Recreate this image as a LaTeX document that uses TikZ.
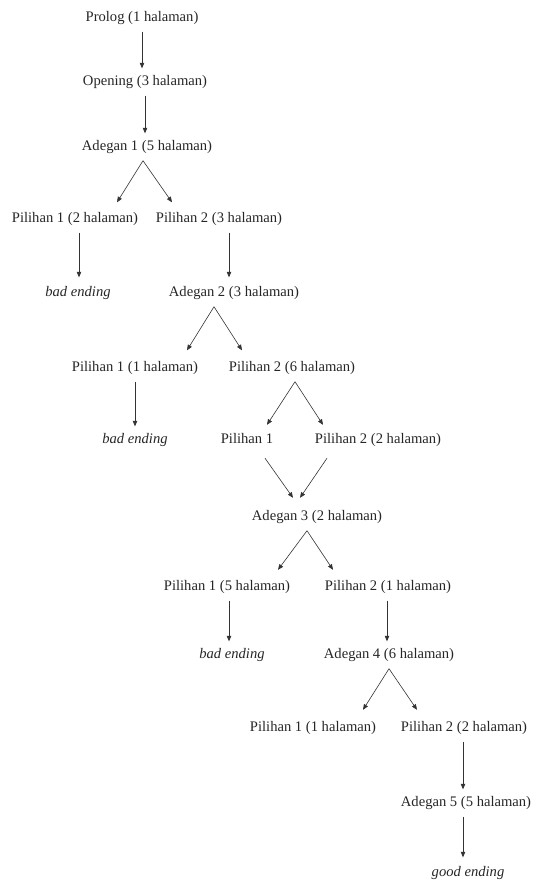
\documentclass[tikz,border=0pt]{standalone}
\usepackage{fontspec}
\setmainfont{Liberation Serif}
\usetikzlibrary{arrows.meta,calc}
\tikzset{
  lbl/.style={inner xsep=0pt, inner ysep=7pt, text height=10pt, text depth=3pt,
    font=\fontsize{14.6}{17}\selectfont, text=black!85},
  endlbl/.style={lbl, font=\fontsize{14.6}{17}\selectfont\itshape},
  arr/.style={draw=black!80, line width=0.6pt, -{Triangle[length=5.5pt,width=4.5pt]}}
}
\begin{document}
\begin{tikzpicture}[x=1pt,y=-1pt]
\path[use as bounding box] (0,0) rectangle (535,882);
\node[lbl] (pro) at (142,18) {Prolog (1 halaman)};
\node[lbl] (ope) at (145,82) {Opening (3 halaman)};
\node[lbl] (a1) at (147,147) {Adegan 1 (5 halaman)};
\node[lbl] (p11) at (75,219) {Pilihan 1 (2 halaman)};
\node[lbl] (p12) at (219,219) {Pilihan 2 (3 halaman)};
\node[endlbl] (bad1) at (78,293) {bad ending};
\node[lbl] (a2) at (234,293) {Adegan 2 (3 halaman)};
\node[lbl] (p21) at (135,368) {Pilihan 1 (1 halaman)};
\node[lbl] (p22) at (292,368) {Pilihan 2 (6 halaman)};
\node[endlbl] (bad2) at (135,440) {bad ending};
\node[lbl] (p221) at (247,440) {Pilihan 1};
\node[lbl] (p222) at (378,440) {Pilihan 2 (2 halaman)};
\node[lbl] (a3) at (317,517) {Adegan 3 (2 halaman)};
\node[lbl] (p31) at (227,587) {Pilihan 1 (5 halaman)};
\node[lbl] (p32) at (388,587) {Pilihan 2 (1 halaman)};
\node[endlbl] (bad3) at (232,655) {bad ending};
\node[lbl] (a4) at (389,655) {Adegan 4 (6 halaman)};
\node[lbl] (p41) at (313,728) {Pilihan 1 (1 halaman)};
\node[lbl] (p42) at (464,728) {Pilihan 2 (2 halaman)};
\node[lbl] (a5) at (466,803) {Adegan 5 (5 halaman)};
\node[endlbl] (good) at (468,873) {good ending};

% vertical arrows
\draw[arr] (pro.south) -- (pro.south |- ope.north);
\draw[arr] (ope.south) -- (ope.south |- a1.north);
\draw[arr] ([xshift=4pt]p11.south) -- ([xshift=4pt,yshift=2pt]p11.south |- bad1.north);
\draw[arr] ([xshift=10pt]p12.south) -- ([xshift=10pt,yshift=2pt]p12.south |- a2.north);
\draw[arr] (p21.south) -- (p21.south |- bad2.north);
\draw[arr] ([xshift=2pt]p31.south) -- ([xshift=2pt]p31.south |- bad3.north);
\draw[arr] ([xshift=-1pt]p32.south) -- ([xshift=-1pt]p32.south |- a4.north);
\draw[arr] ([xshift=-1pt]p42.south) -- ([xshift=-1pt]p42.south |- a5.north);
\draw[arr] ([xshift=-3pt]a5.south) -- ([xshift=-3pt,yshift=2pt]a5.south |- good.north);

% forks
\draw[arr] ([xshift=-4pt]a1.south) -- ([xshift=42pt,yshift=3pt]p11.north);
\draw[arr] ([xshift=-4pt]a1.south) -- ([xshift=-47pt,yshift=3pt]p12.north);
\draw[arr] ([xshift=-20pt]a2.south) -- ([xshift=52pt,yshift=4pt]p21.north);
\draw[arr] ([xshift=-20pt]a2.south) -- ([xshift=-50pt,yshift=4pt]p22.north);
\draw[arr] ([xshift=3pt]p22.south) -- ([xshift=20pt,yshift=1.5pt]p221.north);
\draw[arr] ([xshift=3pt]p22.south) -- ([xshift=-55pt,yshift=1.5pt]p222.north);
\draw[arr] ([xshift=-10pt]a3.south) -- ([xshift=51pt,yshift=3.5pt]p31.north);
\draw[arr] ([xshift=-10pt]a3.south) -- ([xshift=-55pt,yshift=3.5pt]p32.north);
\draw[arr] (a4.south) -- ([xshift=50pt,yshift=4.5pt]p41.north);
\draw[arr] (a4.south) -- ([xshift=-47pt,yshift=4.5pt]p42.north);

% merge
\draw[arr] ([xshift=18pt,yshift=-4.5pt]p221.south) -- ([xshift=-24pt,yshift=5.5pt]a3.north);
\draw[arr] ([xshift=-51pt,yshift=-4.5pt]p222.south) -- ([xshift=-17pt,yshift=5.5pt]a3.north);
\end{tikzpicture}
\end{document}
